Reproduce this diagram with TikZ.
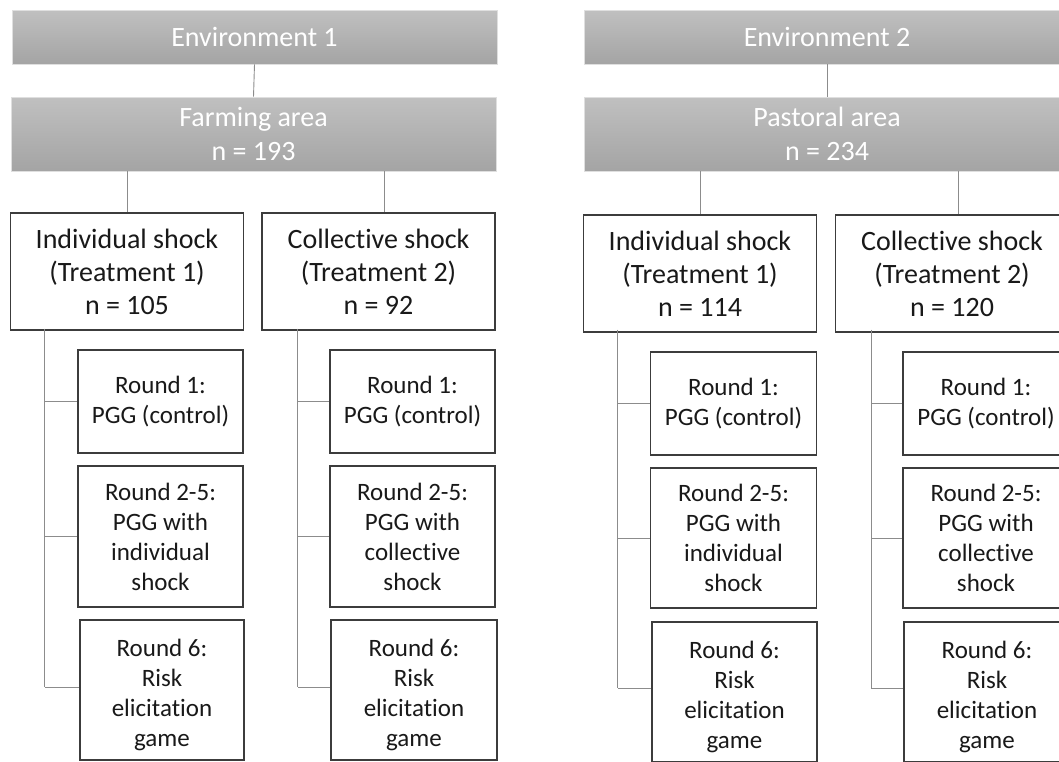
\documentclass[tikz,border=0pt]{standalone}
\usepackage{fontspec}
\setmainfont{Carlito}[Ligatures=NoCommon]
\definecolor{gtop}{RGB}{192,192,192}
\definecolor{gbot}{RGB}{164,164,164}
\definecolor{lineg}{RGB}{140,140,140}
\definecolor{boxline}{RGB}{60,60,60}
\definecolor{txt}{RGB}{25,25,25}
\tikzset{
  graybox/.style={rectangle, inner sep=0pt, top color=gtop, bottom color=gbot, draw=gray!25, line width=0.8pt,
    text=white, align=center, font=\fontsize{28}{34}\selectfont},
  treatbox/.style={rectangle, inner sep=0pt, draw=boxline, line width=1.3pt, fill=white, text=txt,
    align=center, minimum width=233pt, minimum height=117pt, font=\fontsize{28}{33}\selectfont},
  roundbox/.style={rectangle, inner sep=0pt, draw=boxline, line width=1.3pt, fill=white, text=txt,
    align=center, minimum width=165pt, font=\fontsize{25}{30}\selectfont},
  roundtext/.style={inner sep=0pt, text=txt, align=center, font=\fontsize{25}{30}\selectfont, yshift=-5pt},
  conn/.style={draw=lineg, line width=0.9pt},
}
\begin{document}
\begin{tikzpicture}[x=1pt,y=-1pt]
\useasboundingbox (0,0) rectangle (1059,761);
\clip (0,0) rectangle (1059,761);
% ---------- Environment 1 ----------
\node[graybox, minimum width=485pt, minimum height=54pt] (env1) at (254.5,37) {Environment 1};
\node[graybox, minimum width=485pt, minimum height=74pt] (farm) at (253.5,134) {Farming area\\n = 193};
\node[treatbox] (ind1) at (127,271.5) {Individual shock\\(Treatment 1)\\n = 105};
\node[treatbox] (col1) at (378.5,271.5) {Collective shock\\(Treatment 2)\\n = 92};
\node[roundbox, minimum height=103pt] (r1a) at (160.5,401.5) {Round 1:\\PGG (control)};
\node[roundbox, minimum height=141pt] (r2a) at (160.5,536.5) {Round 2-5:\\PGG with\\individual\\shock};
\node[roundbox, minimum height=140pt, minimum width=164pt,
  label={[roundtext]center:{Round 6:\\Risk\\elicitation\\game}}] (r6a) at (162,690) {};
\node[roundbox, minimum height=103pt] (r1b) at (412.5,401.5) {Round 1:\\PGG (control)};
\node[roundbox, minimum height=141pt] (r2b) at (412.5,536.5) {Round 2-5:\\PGG with\\collective\\shock};
\node[roundbox, minimum height=140pt, minimum width=166pt,
  label={[roundtext]center:{Round 6:\\Risk\\elicitation\\game}}] (r6b) at (414,690) {};
% ---------- Environment 2 ----------
\node[graybox, minimum width=486pt, minimum height=54pt] (env2) at (827,37) {Environment 2};
\node[graybox, minimum width=486pt, minimum height=74pt] (past) at (827,134) {Pastoral area\\n = 234};
\node[treatbox] (ind2) at (700,273.5) {Individual shock\\(Treatment 1)\\n = 114};
\node[treatbox] (col2) at (952,273.5) {Collective shock\\(Treatment 2)\\n = 120};
\node[roundbox, minimum height=103pt, minimum width=166pt] (r1c) at (733.5,403.5) {Round 1:\\PGG (control)};
\node[roundbox, minimum height=140pt, minimum width=166pt] (r2c) at (733.5,538) {Round 2-5:\\PGG with\\individual\\shock};
\node[roundbox, minimum height=140pt, minimum width=165pt,
  label={[roundtext]center:{Round 6:\\Risk\\elicitation\\game}}] (r6c) at (734.5,692) {};
\node[roundbox, minimum height=103pt, minimum width=166pt] (r1d) at (986,403.5) {Round 1:\\PGG (control)};
\node[roundbox, minimum height=140pt, minimum width=166pt] (r2d) at (986,538) {Round 2-5:\\PGG with\\collective\\shock};
\node[roundbox, minimum height=140pt, minimum width=166pt,
  label={[roundtext]center:{Round 6:\\Risk\\elicitation\\game}}] (r6d) at (987,692) {};
% ---------- connectors ----------
\draw[conn] (env1.south) -- (farm.north);
\draw[conn] (farm.south -| ind1.north) -- (ind1.north);
\draw[conn] ([xshift=5.5pt]farm.south -| col1.north) -- ([xshift=5.5pt]col1.north);
\draw[conn] (env2.south) -- (past.north);
\draw[conn] (past.south -| ind2.north) -- (ind2.north);
\draw[conn] ([xshift=6.5pt]past.south -| col2.north) -- ([xshift=6.5pt]col2.north);
% trees
\coordinate (ta) at ([xshift=35pt,yshift=2pt]ind1.south west);
\coordinate (tb) at ([xshift=36.5pt,yshift=2pt]col1.south west);
\coordinate (tc) at ([xshift=35pt,yshift=3pt]ind2.south west);
\coordinate (td) at ([xshift=36.5pt,yshift=3pt]col2.south west);
\draw[conn] (ta) -- (ta |- 0,687);
\draw[conn] (ta |- r1a.west) -- (r1a.west);
\draw[conn] (ta |- r2a.west) -- (r2a.west);
\draw[conn] (ta |- 0,687) -- (r6a.west |- 0,687);
\draw[conn] (tb) -- (tb |- 0,687);
\draw[conn] (tb |- r1b.west) -- (r1b.west);
\draw[conn] (tb |- r2b.west) -- (r2b.west);
\draw[conn] (tb |- 0,687) -- (r6b.west |- 0,687);
\draw[conn] (tc) -- (tc |- 0,688);
\draw[conn] (tc |- r1c.west) -- (r1c.west);
\draw[conn] (tc |- r2c.west) -- (r2c.west);
\draw[conn] (tc |- 0,688) -- (r6c.west |- 0,688);
\draw[conn] (td) -- (td |- 0,688);
\draw[conn] (td |- r1d.west) -- (r1d.west);
\draw[conn] (td |- r2d.west) -- (r2d.west);
\draw[conn] (td |- 0,688) -- (r6d.west |- 0,688);
\end{tikzpicture}
\end{document}
